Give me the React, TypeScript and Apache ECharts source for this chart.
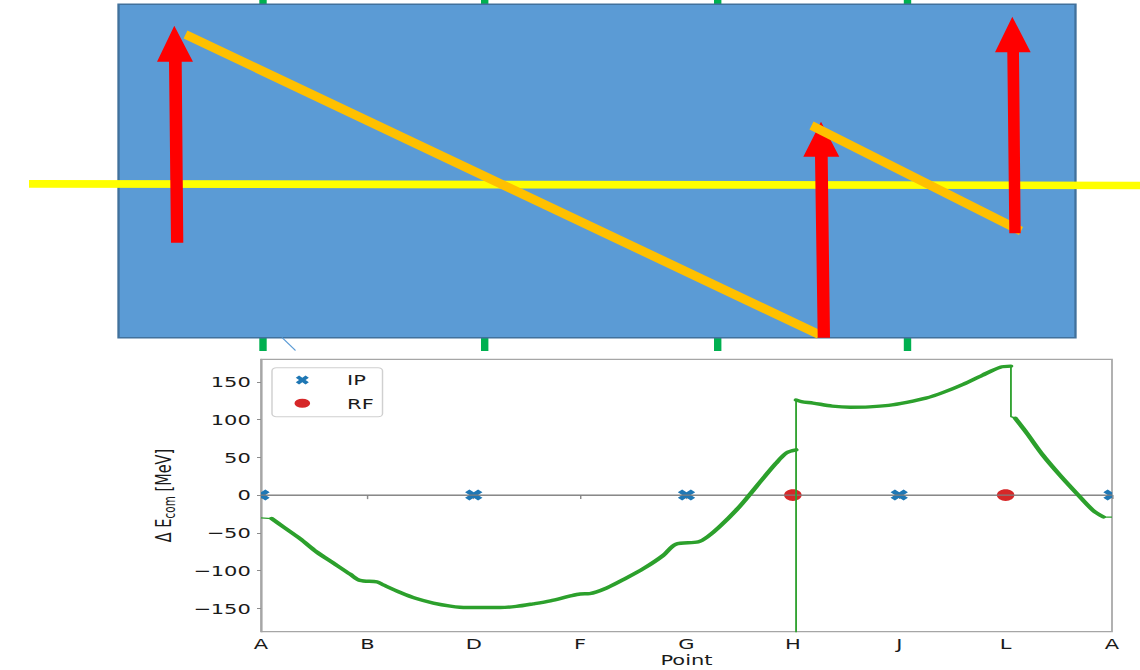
import React, { useEffect, useRef } from 'react';
import * as echarts from 'echarts';

// Ring points along the orbit (tick order on the x axis)
const pointLabels = ['A', 'B', 'D', 'F', 'G', 'H', 'J', 'L', 'A'];
const yTicks = [-150, -100, -50, 0, 50, 100, 150];
const yRange = [-181, 180];

// Interaction points and RF stations, by tick index
const ipPositions = [0, 2, 4, 6, 8];
const rfPositions = [5, 7];

// ΔE_com [MeV] along the ring: [position, value]
const arcAH: [number, number][] = [
  [0, -30], [0.1, -31], [0.21, -42], [0.37, -58], [0.52, -75], [0.68, -90],
  [0.84, -105], [0.93, -113], [1.09, -115], [1.15, -119], [1.31, -129],
  [1.46, -137], [1.62, -143], [1.78, -147], [1.93, -149], [2.09, -149],
  [2.25, -149], [2.4, -147.5], [2.56, -144], [2.72, -140], [2.9, -134],
  [3.0, -131], [3.09, -130.5], [3.25, -123], [3.42, -111], [3.6, -97],
  [3.78, -80], [3.9, -65], [4.11, -62], [4.2, -55], [4.31, -42], [4.48, -18],
  [4.59, 0], [4.66, 12], [4.84, 42], [4.94, 56], [5.03, 60],
];
// RF kick at H: the trace dips out of range before landing on the upper branch
const kickH: [number, number] = [5.03, -260];
const arcHL: [number, number][] = [
  [5.03, 126], [5.08, 124], [5.19, 122], [5.37, 118], [5.54, 116.5],
  [5.72, 117], [5.9, 119], [6.07, 123], [6.25, 128.5], [6.42, 136.5],
  [6.6, 146.8], [6.78, 158.8], [6.95, 169.5], [7.05, 171],
];
const arcLA: [number, number][] = [
  [7.05, 104], [7.09, 102], [7.2, 82], [7.35, 53], [7.51, 26.5], [7.67, 2],
  [7.82, -20], [7.92, -29],
];
const endA: [number, number] = [8, -29];

// The figure is rendered narrow and stretched horizontally
const SX = 1.45;
const CW = 787;
const CH = 670;
const FONT = "'DejaVu Sans', 'Noto Sans', sans-serif";
const INK = '#1a1a1a';
const SPINE = '#a6a6a6';
const GREEN = '#2ca02c';
const BLUE = '#1f77b4';
const RED = '#d62728';

const X_PATH = 'M3,0L6,3L9,0L12,3L9,6L12,9L9,12L6,9L3,12L0,9L3,6L0,3Z';
const ELLIPSE_PATH = 'M0,5A6,5,0,1,1,12,5A6,5,0,1,1,0,5Z';

const px = (x: number) => x / SX;
const poly = (pts: number[][]) => pts.map(([x, y]) => [px(x), y]);

// straight thick stroke as a polygon, width measured on screen
function band(x1: number, y1: number, x2: number, y2: number, w: number) {
  const dx = x2 - x1;
  const dy = y2 - y1;
  const len = Math.hypot(dx, dy);
  const nx = (-dy / len) * (w / 2);
  const ny = (dx / len) * (w / 2);
  return poly([
    [x1 + nx, y1 + ny],
    [x2 + nx, y2 + ny],
    [x2 - nx, y2 - ny],
    [x1 - nx, y1 - ny],
  ]);
}

// block arrow pointing up
function upArrow(
  tip: [number, number],
  baseY: number,
  headL: number,
  headR: number,
  shaftTopL: number,
  shaftTopR: number,
  bottomY: number,
  bottomL: number,
  bottomR: number
) {
  return poly([
    tip,
    [headR, baseY],
    [shaftTopR, baseY],
    [bottomR, bottomY],
    [bottomL, bottomY],
    [shaftTopL, baseY],
    [headL, baseY],
  ]);
}

function buildSchematic() {
  const els: any[] = [];
  [263, 484.7, 717.7, 907.5].forEach((c) => {
    els.push({
      type: 'rect',
      shape: { x: px(c - 3.7), y: 0, width: px(7.4), height: 351 },
      style: { fill: '#00B050' },
    });
  });
  els.push({
    type: 'rect',
    shape: { x: px(118.5), y: 4.3, width: px(957), height: 333.4 },
    style: { fill: '#5B9BD5', stroke: '#41719C', lineWidth: 1.6 },
  });
  els.push({
    type: 'line',
    shape: { x1: px(282), y1: 337.5, x2: px(295.5), y2: 350.5 },
    style: { stroke: '#5B9BD5', lineWidth: 1 },
  });
  els.push({
    type: 'polygon',
    shape: { points: poly([[29, 180], [1140, 181.7], [1140, 189.3], [29, 187.7]]) },
    style: { fill: '#FFFF00' },
  });
  els.push({
    type: 'polygon',
    shape: { points: band(185.5, 34.5, 819, 334.5, 9) },
    style: { fill: '#FFC000' },
  });
  els.push({
    type: 'polygon',
    shape: { points: upArrow([174.3, 25.7], 61.7, 157, 193, 169, 181.7, 242.7, 171, 183.3) },
    style: { fill: '#FF0000' },
  });
  els.push({
    type: 'polygon',
    shape: { points: upArrow([821, 121.7], 156.7, 803.3, 839.3, 815, 827.7, 337.7, 817.7, 830) },
    style: { fill: '#FF0000' },
  });
  els.push({
    type: 'polygon',
    shape: { points: band(811.5, 125.5, 1021, 231, 9) },
    style: { fill: '#FFC000' },
  });
  els.push({
    type: 'polygon',
    shape: { points: upArrow([1012.3, 16.7], 52.3, 995, 1030.7, 1007.3, 1019, 233.3, 1009.3, 1020.7) },
    style: { fill: '#FF0000' },
  });
  return els;
}

const minus = (v: number) => (v < 0 ? '\u2212' + Math.abs(v) : String(v));
const last = <T,>(a: T[]) => a[a.length - 1];

function buildOption() {
  const xMax = pointLabels.length - 1;
  // thin connectors: the flat ends at A and the vertical jumps at H and L
  const connectors = [
    [arcAH[0], arcAH[1]],
    [last(arcAH), kickH, arcHL[0]],
    [last(arcHL), arcLA[0], arcLA[1]],
    [last(arcLA), endA],
  ];
  const thickArcs = [arcAH.slice(1), arcHL, arcLA.slice(1)];

  const axisFont = { fontFamily: FONT, fontSize: 14.5, color: INK };

  return {
    animation: false,
    backgroundColor: '#ffffff',
    graphic: buildSchematic(),
    grid: {
      left: px(261),
      top: 359.3,
      width: px(851),
      height: 272.4,
      show: true,
      borderColor: SPINE,
      borderWidth: 1.2,
      backgroundColor: '#ffffff',
    },
    legend: {
      orient: 'vertical',
      left: px(272),
      top: 367.7,
      padding: [4.3, 6, 5.4, 15.5],
      itemGap: 7.3,
      itemWidth: 11,
      itemHeight: 9,
      selectedMode: false,
      backgroundColor: '#ffffff',
      borderColor: '#d0d0d0',
      borderWidth: 1,
      borderRadius: 3,
      textStyle: { ...axisFont, lineHeight: 16, padding: [0, 0, 0, 20.4] },
      data: [
        { name: 'IP', icon: 'path://' + X_PATH, itemStyle: { color: BLUE } },
        { name: 'RF', icon: 'path://' + ELLIPSE_PATH, itemStyle: { color: RED } },
      ],
    },
    xAxis: {
      type: 'value',
      min: 0,
      max: xMax,
      interval: 1,
      name: 'Point',
      nameLocation: 'middle',
      nameGap: 21,
      nameTextStyle: axisFont,
      axisLine: { show: true, lineStyle: { color: SPINE, width: 1.2 } },
      axisTick: { show: true, length: 4, lineStyle: { color: '#8c8c8c', width: 1 } },
      axisLabel: {
        ...axisFont,
        margin: 5,
        showMinLabel: true,
        showMaxLabel: true,
        formatter: (v: number) => pointLabels[Math.round(v)] ?? '',
      },
      splitLine: { show: false },
    },
    yAxis: {
      type: 'value',
      min: yRange[0],
      max: yRange[1],
      name: '{n|Δ E}{sub|com}{n| [MeV]}',
      nameLocation: 'middle',
      nameRotate: 90,
      nameGap: 51,
      nameTextStyle: {
        ...axisFont,
        rich: {
          n: { fontFamily: FONT, fontSize: 14.5, color: INK },
          sub: { fontFamily: FONT, fontSize: 10.5, color: INK, padding: [8, 0, 0, 0] },
        },
      },
      axisLine: { show: true, lineStyle: { color: SPINE, width: 1.2 } },
      axisTick: {
        show: true,
        length: px(4),
        customValues: yTicks,
        lineStyle: { color: '#8c8c8c', width: 1 },
      },
      axisLabel: {
        ...axisFont,
        margin: 7,
        customValues: yTicks,
        formatter: (v: number) => minus(v),
      },
      splitLine: { show: false },
    },
    series: [
      {
        name: 'zero',
        type: 'line',
        data: [[0, 0], [xMax, 0]],
        symbol: 'none',
        silent: true,
        lineStyle: { color: '#7f7f7f', width: 1.3 },
      },
      {
        name: 'IP',
        type: 'custom',
        coordinateSystem: 'cartesian2d',
        clip: true,
        silent: true,
        itemStyle: { color: BLUE },
        data: ipPositions.map((x) => [x, 0]),
        renderItem: (_params: any, api: any) => {
          const [cx, cy] = api.coord([api.value(0), api.value(1)]);
          return {
            type: 'path',
            shape: { pathData: X_PATH, x: cx - 6, y: cy - 5.5, width: 12, height: 11, layout: 'cover' },
            style: { fill: BLUE },
          };
        },
      },
      {
        name: 'RF',
        type: 'custom',
        coordinateSystem: 'cartesian2d',
        clip: true,
        silent: true,
        itemStyle: { color: RED },
        data: rfPositions.map((x) => [x, 0]),
        renderItem: (_params: any, api: any) => {
          const [cx, cy] = api.coord([api.value(0), api.value(1)]);
          return {
            type: 'ellipse',
            shape: { cx, cy, rx: 6.05, ry: 5.85 },
            style: { fill: RED },
          };
        },
      },
      ...connectors.map((seg, i) => ({
        name: 'jump-' + i,
        type: 'line',
        data: seg,
        symbol: 'none',
        silent: true,
        clip: true,
        lineStyle: { color: GREEN, width: 1.25 },
      })),
      ...thickArcs.map((arc, i) => ({
        name: 'orbit-' + i,
        type: 'line',
        data: arc,
        symbol: 'none',
        silent: true,
        clip: true,
        smooth: 0.3,
        lineStyle: { color: GREEN, width: 3.4, join: 'round', cap: 'round' },
      })),
    ],
  };
}

export default function App() {
  const ref = useRef<HTMLDivElement>(null);

  useEffect(() => {
    if (!ref.current) return;
    const chart = echarts.init(ref.current, null, { renderer: 'svg' });
    chart.setOption(buildOption() as any);
    return () => chart.dispose();
  }, []);

  return (
    <div
      ref={ref}
      style={{
        position: 'fixed',
        left: 0,
        top: 0,
        width: CW,
        height: CH,
        transform: `scaleX(${SX})`,
        transformOrigin: '0 0',
        background: '#ffffff',
      }}
    />
  );
}
